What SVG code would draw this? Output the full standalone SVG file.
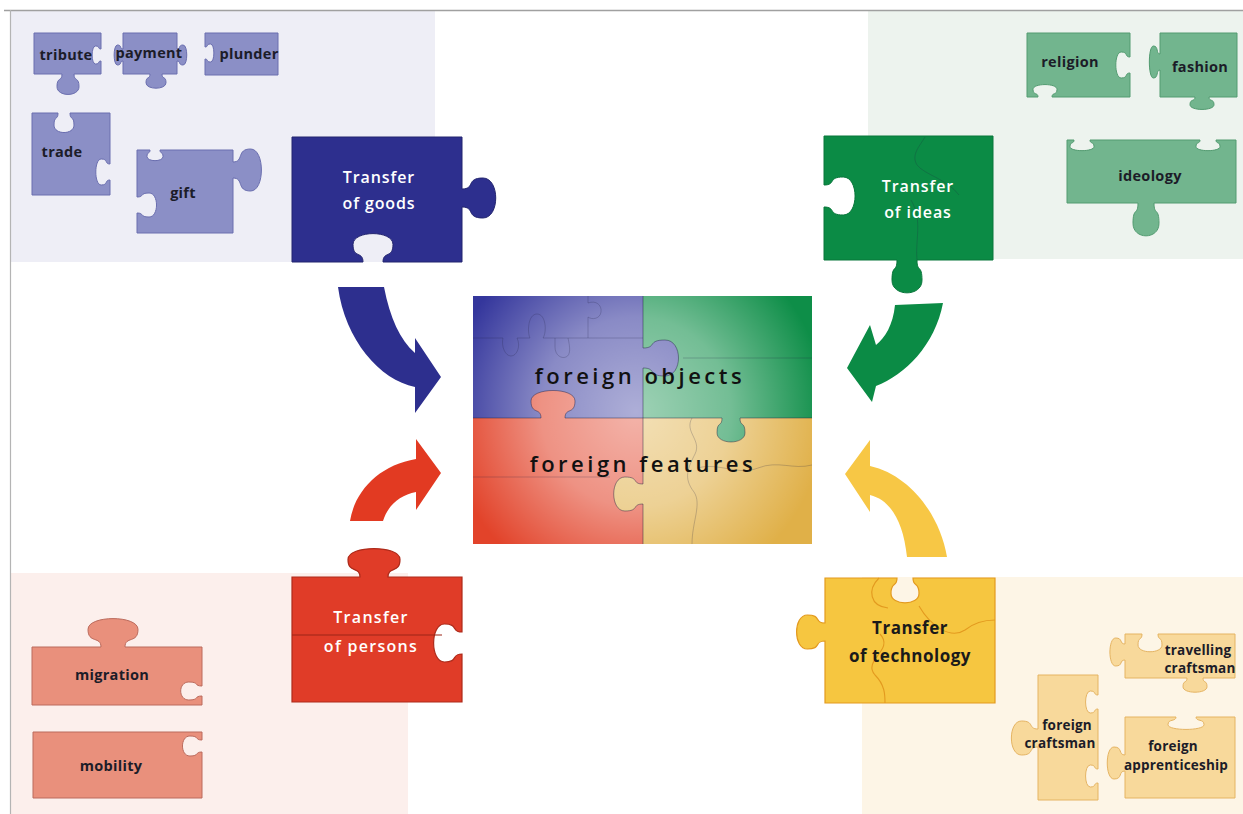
<svg xmlns="http://www.w3.org/2000/svg" width="1243" height="814" viewBox="0 0 1243 814">
<defs>
<style>
.sm-b{fill:#8b8fc6;stroke:#6a6eaf;stroke-width:1}
.sm-g{fill:#72b58e;stroke:#529b70;stroke-width:1}
.sm-r{fill:#e9907c;stroke:#bb6b5d;stroke-width:1}
.sm-y{fill:#f8d99b;stroke:#e5b463;stroke-width:1}
.lbl{font-family:"Open Sans","Liberation Sans",sans-serif;font-weight:700;font-size:14.5px;fill:#1c1c28;text-anchor:middle;letter-spacing:0.3px}
.lbs{font-family:"Open Sans","Liberation Sans",sans-serif;font-weight:700;font-size:13.5px;fill:#1c1c28;text-anchor:middle;letter-spacing:0.2px}
.big{font-family:"Open Sans","Liberation Sans",sans-serif;font-weight:600;font-size:16px;fill:#ffffff;text-anchor:middle;letter-spacing:0.9px}
.bigd{font-family:"Open Sans","Liberation Sans",sans-serif;font-weight:700;font-size:17px;fill:#1a1a1a;text-anchor:middle;letter-spacing:0.5px}
.ctr{font-family:"Open Sans","Liberation Sans",sans-serif;font-weight:600;font-size:22px;fill:#111;text-anchor:middle;letter-spacing:3.5px}
.seam{fill:none;stroke:#1e2040;stroke-opacity:0.45;stroke-width:1}
.faint{fill:none;stroke:#1e2040;stroke-opacity:0.22;stroke-width:1}
</style>
<radialGradient id="glow" gradientUnits="userSpaceOnUse" cx="636" cy="412" r="190">
<stop offset="0" stop-color="#fff" stop-opacity="0.6"/>
<stop offset="0.5" stop-color="#fff" stop-opacity="0.42"/>
<stop offset="1" stop-color="#fff" stop-opacity="0"/>
</radialGradient>
</defs>
<rect width="1243" height="814" fill="#ffffff"/>
<g id="panels">
<rect x="10" y="11" width="425" height="251" fill="#eeeef6"/>
<rect x="868" y="11" width="375" height="248" fill="#edf3ee"/>
<rect x="10" y="573" width="398" height="241" fill="#fcefec"/>
<rect x="862" y="577" width="381" height="237" fill="#fdf5e6"/>
<line x1="4" y1="10.5" x2="1243" y2="10.5" stroke="#a0a0a0" stroke-width="1.5"/>
<line x1="10.5" y1="10" x2="10.5" y2="814" stroke="#b4b4b4" stroke-width="1.2"/>
</g>

<g id="goods-small">
<g id="tribute"><path class="sm-b" d="M34 33 H101 V49 c-3.5,0 -1,-3 -5.5,-3 c-4.5,0 -4.5,18 0,18 c4.5,0 2,-3 5.5,-3 V74 H74 c0,8.05 5,2.3 5,12.65 c0,10.35 -22,10.35 -22,0 c0,-10.35 5,-4.6 5,-12.65 H34 Z"/><text class="lbl" x="66" y="60">tribute</text></g>
<g id="payment"><path class="sm-b" d="M123 33 H177 V49 c3.85,0 1.1,-4 6.05,-4 c4.95,0 4.95,20 0,20 c-4.95,0 -2.2,-4 -6.05,-4 V74 H162 c0,5.6 4,1.6 4,8.8 c0,7.2 -20,7.2 -20,0 c0,-7.2 4,-3.2 4,-8.8 H123 V61 c-3.5,0 -1,4 -5.5,4 c-4.5,0 -4.5,-20 0,-20 c4.5,0 2,4 5.5,4 Z"/><text class="lbl" x="149" y="58">payment</text></g>
<g id="plunder"><path class="sm-b" d="M205 33 H278 V75 H205 V59 c3.5,0 1,3 5.5,3 c4.5,0 4.5,-18 0,-18 c-4.5,0 -2,3 -5.5,3 Z"/><text class="lbl" x="249" y="59">plunder</text></g>
<g id="trade"><path class="sm-b" d="M32 113 H58 c0,7.7 -4,2.2 -4,12.1 c0,9.9 20,9.9 20,0 c0,-9.9 -4,-4.4 -4,-12.1 H110 V164 c-5.6,0 -1.6,-5 -8.8,-5 c-7.2,0 -7.2,26 0,26 c7.2,0 3.2,-5 8.8,-5 V195 H32 Z"/><text class="lbl" x="62" y="157">trade</text></g>
<g id="gift"><path class="sm-b" d="M137 150 H150 c0,4.2 -3,1.2 -3,6.6 c0,5.4 16,5.4 16,0 c0,-5.4 -3,-2.4 -3,-6.6 H233 V162 c11.2,0 3.2,-13 17.6,-13 c14.4,0 14.4,42 0,42 c-14.4,0 -6.4,-13 -17.6,-13 V233 H137 V213 c7.7,0 2.2,4 12.1,4 c9.9,0 9.9,-24 0,-24 c-9.9,0 -4.4,4 -12.1,4 Z"/><text class="lbl" x="183" y="198">gift</text></g>
</g>

<g id="ideas-small">
<g id="religion"><path class="sm-g" d="M1027 33 H1130 V57 c-5.6,0 -1.6,-5 -8.8,-5 c-7.2,0 -7.2,26 0,26 c7.2,0 3.2,-5 8.8,-5 V97 H1052 c0,-4.9 5,-1.4 5,-7.7 c0,-6.3 -24,-6.3 -24,0 c0,6.3 5,2.8 5,7.7 H1027 Z"/><text class="lbl" x="1070" y="67">religion</text></g>
<g id="fashion"><path class="sm-g" d="M1160 33 H1237 V97 H1209 c0,4.9 5,1.4 5,7.7 c0,6.3 -24,6.3 -24,0 c0,-6.3 5,-2.8 5,-7.7 H1160 V70 c-4.2,0 -1.2,8 -6.6,8 c-5.4,0 -5.4,-32 0,-32 c5.4,0 2.4,8 6.6,8 Z"/><text class="lbl" x="1200" y="72">fashion</text></g>
<g id="ideology"><path class="sm-g" d="M1067 140 H1074 c0,4.2 -4,1.2 -4,6.6 c0,5.4 24,5.4 24,0 c0,-5.4 -4,-2.4 -4,-6.6 H1200 c0,4.2 -4,1.2 -4,6.6 c0,5.4 24,5.4 24,0 c0,-5.4 -4,-2.4 -4,-6.6 H1236 V203 H1154 c0,12.95 5,3.7 5,20.35 c0,16.65 -26,16.65 -26,0 c0,-16.65 5,-7.4 5,-20.35 H1067 Z"/><text class="lbl" x="1150" y="181">ideology</text></g>
</g>

<g id="persons-small">
<g id="migration"><path class="sm-r" d="M32 647 H101 c0,-11.2 -13,-3.2 -13,-17.6 c0,-14.4 50,-14.4 50,0 c0,14.4 -13,6.4 -13,17.6 H202 V686 c-8.4,0 -2.4,-4 -13.2,-4 c-10.8,0 -10.8,18 0,18 c10.8,0 4.8,-4 13.2,-4 V705 H32 Z"/><text class="lbl" x="112" y="680">migration</text></g>
<g id="mobility"><path class="sm-r" d="M33 732 H202 V740 c-7.7,0 -2.2,-4 -12.1,-4 c-9.9,0 -9.9,20 0,20 c9.9,0 4.4,-4 12.1,-4 V798 H33 Z"/><text class="lbl" x="111" y="771">mobility</text></g>
</g>

<g id="technology-small">
<g id="travelling-craftsman"><path class="sm-y" d="M1125 634 H1142 c0,7 -4,2 -4,11 c0,9 24,9 24,0 c0,-9 -4,-4 -4,-11 H1235 V678 H1203 c0,5.6 4,1.6 4,8.8 c0,7.2 -24,7.2 -24,0 c0,-7.2 4,-3.2 4,-8.8 H1125 V660 c-5.95,0 -1.7,6 -9.35,6 c-7.65,0 -7.65,-28 0,-28 c7.65,0 3.4,6 9.35,6 Z"/><text class="lbs" x="1198" y="655">travelling</text><text class="lbs" x="1200" y="673">craftsman</text></g>
<g id="foreign-craftsman"><path class="sm-y" d="M1038 675 H1098 V695 c-4.9,0 -1.4,-4 -7.7,-4 c-6.3,0 -6.3,22 0,22 c6.3,0 2.8,-4 7.7,-4 V769 c-4.9,0 -1.4,-4 -7.7,-4 c-6.3,0 -6.3,22 0,22 c6.3,0 2.8,-4 7.7,-4 V800 H1038 V747 c-10.5,0 -3,8 -16.5,8 c-13.5,0 -13.5,-34 0,-34 c13.5,0 6,8 16.5,8 Z"/><text class="lbs" x="1067" y="730">foreign</text><text class="lbs" x="1060" y="748">craftsman</text></g>
<g id="foreign-apprenticeship"><path class="sm-y" d="M1125 717 H1176 c0,4.9 -8,1.4 -8,7.7 c0,6.3 36,6.3 36,0 c0,-6.3 -8,-2.8 -8,-7.7 H1235 V798 H1125 V771 c-7,0 -2,8 -11,8 c-9,0 -9,-32 0,-32 c9,0 4,8 11,8 Z"/><text class="lbs" x="1173" y="751">foreign</text><text class="lbs" x="1176" y="770">apprenticeship</text></g>
</g>

<g id="transfer-goods">
<path fill="#2d2f8e" stroke="#22246e" stroke-width="1" d="M292 137 H462 V189 c13.3,0 3.8,-11 20.9,-11 c17.1,0 17.1,40 0,40 c-17.1,0 -7.6,-11 -20.9,-11 V262 H383 c0,-11.2 10,-3.2 10,-17.6 c0,-14.4 -40,-14.4 -40,0 c0,14.4 10,6.4 10,17.6 H292 Z"/>
<text class="big" x="379" y="183">Transfer</text><text class="big" x="379" y="209">of goods</text>
</g>

<g id="transfer-ideas">
<path fill="#0b8b45" stroke="#08763a" stroke-width="1" d="M824 136 H993 V260 H917 c0,12.95 5,3.7 5,20.35 c0,16.65 -30,16.65 -30,0 c0,-16.65 5,-7.4 5,-20.35 H824 V207 c12.25,0 3.5,8 19.25,8 c15.75,0 15.75,-38 0,-38 c-15.75,0 -7,8 -19.25,8 Z"/>
<path class="faint" d="M925 137 c-6,10 -14,18 -8,28 c8,10 30,14 42,30 M917 260 c-2,-20 6,-40 -6,-60"/>
<text class="big" x="918" y="192">Transfer</text><text class="big" x="918" y="218">of ideas</text>
</g>

<g id="transfer-persons">
<path fill="#e03c28" stroke="#ad2a1a" stroke-width="1.2" d="M292 577 H360 c0,-11.2 -12,-3.2 -12,-17.6 c0,-14.4 52,-14.4 52,0 c0,14.4 -12,6.4 -12,17.6 H462 V632 c-11.2,0 -3.2,-8 -17.6,-8 c-14.4,0 -14.4,38 0,38 c14.4,0 6.4,-8 17.6,-8 V702 H292 Z"/>
<line x1="292" y1="635" x2="442" y2="635" stroke="#9c2416" stroke-width="1.2"/>
<text class="big" x="371" y="623" style="letter-spacing:1.3px">Transfer</text><text class="big" x="371" y="652" style="letter-spacing:1.3px">of persons</text>
</g>

<g id="transfer-technology">
<path fill="#f6c640" stroke="#e39a1f" stroke-width="1.2" d="M825 578 H897 c0,9.8 -6,2.8 -6,15.4 c0,12.6 28,12.6 28,0 c0,-12.6 -6,-5.6 -6,-15.4 H995 V703 H825 V641 c-11.2,0 -3.2,8 -17.6,8 c-14.4,0 -14.4,-34 0,-34 c14.4,0 6.4,8 17.6,8 Z"/>
<path fill="none" stroke="#e39a1f" stroke-width="1.1" d="M879 578 C867 590 870 606 888 608 M919 606 C930 625 950 640 965 630 C975 622 985 620 995 620 M880 634 C895 650 862 660 875 675 C885 685 885 695 885 703"/>
<text class="bigd" x="910" y="634">Transfer</text><text class="bigd" x="910" y="662">of technology</text>
</g>

<g id="connectors">
<path id="arrow-goods" fill="#2d2f8e" d="M338 287 L384 287 C390 318 400 340 415 353 L415 338 L441 377 L415 413 L415 387 C380 380 345 340 338 287 Z"/>
<path id="arrow-ideas" fill="#0b8b45" d="M943 303 L895 305 C893 325 885 338 876 345 L870 325 L847 368 L872 402 L876 386 C905 375 935 345 943 303 Z"/>
<path id="arrow-persons" fill="#e23a22" d="M350 521 C355 490 380 465 416 459 L416 439 L441 473 L416 510 L416 492 C400 495 388 505 383 521 Z"/>
<path id="arrow-technology" fill="#f7c745" d="M947 557 C940 515 910 475 870 466 L870 440 L845 474 L870 512 L870 495 C890 500 903 520 907 557 Z"/>
</g>

<g id="foreign-puzzle">
<rect x="473" y="296" width="170" height="122" fill="#34369c"/>
<rect x="643" y="296" width="169" height="122" fill="#0e8e48"/>
<rect x="473" y="418" width="170" height="126" fill="#e2432a"/>
<rect x="643" y="418" width="169" height="126" fill="#e0b048"/>
<path fill="#34369c" d="M643 348 c14,0 4,-8 22,-8 c18,0 18,36 0,36 c-18,0 -8,-8 -22,-8 Z"/>
<path fill="#e2432a" d="M541 418 c0,-10.85 -10,-3.1 -10,-17.05 c0,-13.95 44,-13.95 44,0 c0,13.95 -10,6.2 -10,17.05 Z"/>
<path fill="#0e8e48" d="M740 418 c0,9.45 5,2.7 5,14.85 c0,12.15 -28,12.15 -28,0 c0,-12.15 5,-5.4 5,-14.85 Z"/>
<path fill="#e0b048" d="M643 504 c-11.55,0 -3.3,7 -18.15,7 c-14.85,0 -14.85,-34 0,-34 c14.85,0 6.6,7 18.15,7 Z"/>
<rect x="473" y="296" width="339" height="248" fill="url(#glow)"/>
<path class="seam" d="M643 296 V348 M643 368 V484 M643 504 V544 M473 418 H541 M565 418 H722 M740 418 H812"/>
<path class="seam" d="M643 348 c14,0 4,-8 22,-8 c18,0 18,36 0,36 c-18,0 -8,-8 -22,-8 M541 418 c0,-10.85 -10,-3.1 -10,-17.05 c0,-13.95 44,-13.95 44,0 c0,13.95 -10,6.2 -10,17.05 M740 418 c0,9.45 5,2.7 5,14.85 c0,12.15 -28,12.15 -28,0 c0,-12.15 5,-5.4 5,-14.85 M643 504 c-11.55,0 -3.3,7 -18.15,7 c-14.85,0 -14.85,-34 0,-34 c14.85,0 6.6,7 18.15,7"/>
<path class="faint" d="M473 338 H503 c-2,8 2,18 8,18 c6,0 10,-10 6,-18 H530 c-3,-6 -2,-24 7,-24 c9,0 10,18 6,24 H643 M588 296 V303 c8,-3 14,2 13,9 c-1,7 -9,8 -13,5 V338 M555 338 V347 c0,8 6,12 11,10 c5,-2 4,-10 2,-19 M473 477 H610 M683 358 H812 M692 418 c-8,14 10,22 3,36 c-7,14 -12,24 -1,38 c8,12 -2,30 -2,52 M698 468 c20,-6 40,8 60,0 c20,-8 35,2 54,-3"/>
<text class="ctr" x="640" y="384">foreign objects</text>
<text class="ctr" x="643" y="472">foreign features</text>
</g>
</svg>
